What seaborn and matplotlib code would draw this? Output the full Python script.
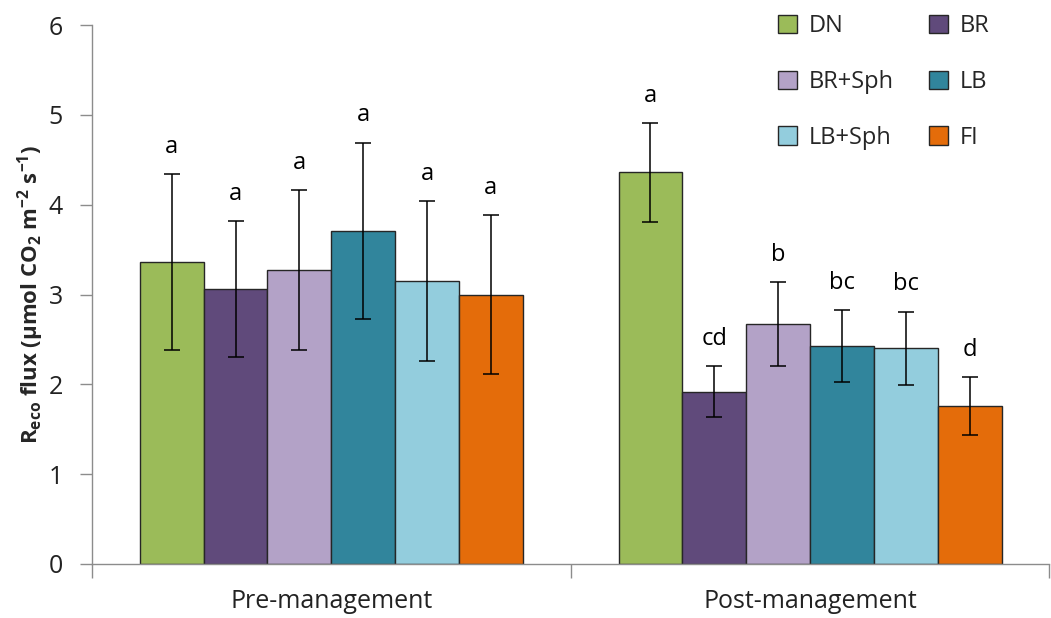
import matplotlib
matplotlib.use("Agg")
import matplotlib.pyplot as plt
import seaborn as sns
import pandas as pd
import numpy as np

# Ecosystem respiration flux per treatment, before and after management
periods = ["Pre-management", "Post-management"]
treatments = ["DN", "BR", "BR+Sph", "LB", "LB+Sph", "FI"]
pre_means = [3.36, 3.06, 3.27, 3.71, 3.15, 3.00]
pre_err = [0.98, 0.76, 0.89, 0.98, 0.89, 0.88]
post_means = [4.36, 1.92, 2.67, 2.43, 2.40, 1.76]
post_err = [0.55, 0.28, 0.47, 0.40, 0.41, 0.32]
pre_letters = ["a", "a", "a", "a", "a", "a"]
post_letters = ["a", "cd", "b", "bc", "bc", "d"]
colors = ["#9BBB59", "#604A7B", "#B3A2C7", "#31859C", "#93CDDD", "#E46C0A"]

df = pd.DataFrame({
    "period": [periods[0]] * 6 + [periods[1]] * 6,
    "treatment": treatments * 2,
    "flux": pre_means + post_means,
    "err": pre_err + post_err,
    "letter": pre_letters + post_letters,
})

sns.set_theme(style="white")
plt.rcParams["font.family"] = ["Open Sans", "DejaVu Sans"]
plt.rcParams["mathtext.fontset"] = "custom"
plt.rcParams["mathtext.rm"] = "Open Sans"
plt.rcParams["mathtext.bf"] = "Open Sans:bold"

fig = plt.figure(figsize=(10.51, 6.18), dpi=100)
ax = fig.add_axes([0.0875, 0.0874, 0.911, 0.8721])

sns.barplot(data=df, x="period", y="flux", hue="treatment",
            order=periods, hue_order=treatments, palette=colors,
            errorbar=None, width=0.8, edgecolor="#262626", linewidth=1.0,
            saturation=1, ax=ax)

# Error bars and significance letters
for ti, (t, cont) in enumerate(zip(treatments, ax.containers)):
    for pi, bar in enumerate(cont):
        row = df[(df.period == periods[pi]) & (df.treatment == t)].iloc[0]
        xc = bar.get_x() + bar.get_width() / 2
        ax.errorbar(xc, row.flux, yerr=row.err, fmt="none", ecolor="black",
                    elinewidth=1.1, capsize=6, capthick=1.1, zorder=5)
        ax.annotate(row.letter, (xc, row.flux + row.err), xytext=(0, 11),
                    textcoords="offset points", ha="center", va="bottom",
                    fontsize=17, color="black")

ax.set_ylim(0, 6)
ax.set_xlim(-0.5, 1.5)
ax.set_yticks(range(0, 7))
ax.tick_params(axis="y", labelsize=18, length=9, width=1, color="#8C8C8C",
               left=True, pad=12, labelcolor="#222222")
ax.set_xticks([0, 1])
ax.set_xticklabels(periods, fontsize=18, color="#222222")
ax.tick_params(axis="x", length=0, pad=18)
# category boundary ticks
ax.set_xticks([-0.5, 0.5, 1.5], minor=True)
ax.tick_params(axis="x", which="minor", length=10, width=1, color="#8C8C8C",
               bottom=True)

for side in ["top", "right"]:
    ax.spines[side].set_visible(False)
for side in ["left", "bottom"]:
    ax.spines[side].set_color("#8C8C8C")
    ax.spines[side].set_linewidth(1.0)

ax.set_xlabel("")
ax.set_ylabel(r"R$_{\mathbf{eco}}$ flux (µmol CO$_{\mathbf{2}}$ m$^{\mathbf{-2}}$ s$^{\mathbf{-1}}$)",
              fontsize=16, fontweight="bold", labelpad=2)

# legend filled row by row: DN BR / BR+Sph LB / LB+Sph FI
handles, labels = ax.get_legend_handles_labels()
order = [0, 2, 4, 1, 3, 5]
ax.legend([handles[i] for i in order], [labels[i] for i in order], ncol=2,
          loc="upper right", bbox_to_anchor=(0.96, 1.06),
          frameon=False, fontsize=17, handlelength=0.8, handleheight=0.8,
          handletextpad=0.5, columnspacing=1.5, labelspacing=1.35)

fig.savefig("out.png", dpi=100)
